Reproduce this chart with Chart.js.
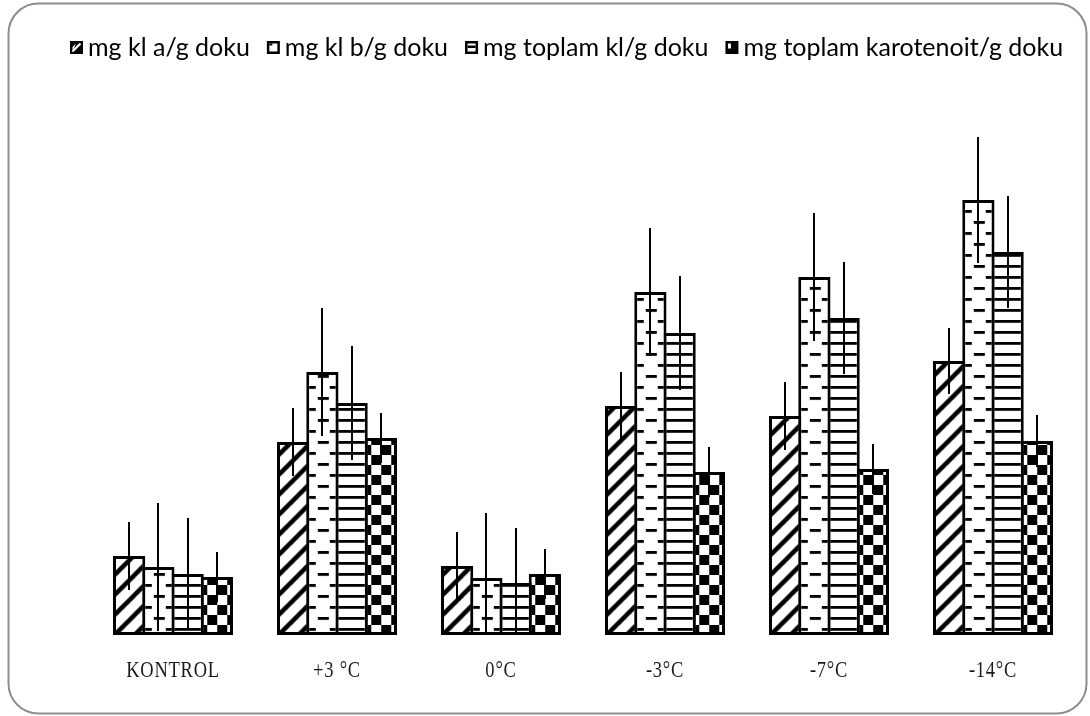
<!DOCTYPE html>
<html>
<head>
<meta charset="utf-8">
<script src="https://cdn.jsdelivr.net/npm/chart.js@4.4.1/dist/chart.umd.min.js"></script>
<style>
  html, body { margin: 0; padding: 0; background: #fff; }
  canvas { display: block; }
</style>
</head>
<body>
<canvas id="c" width="1090" height="716"></canvas>
<script>
// Pigment content per treatment (mg / g tissue) with error values
const categories = ['KONTROL', '+3 °C', '0°C', '-3°C', '-7°C', '-14°C'];
const seriesNames = ['mg kl a/g doku', 'mg kl b/g doku', 'mg toplam kl/g doku', 'mg toplam karotenoit/g doku'];

const klA        = [0.79, 1.93, 0.69, 2.29, 2.19, 2.74];
const klB        = [0.68, 2.63, 0.57, 3.43, 3.58, 4.35];
const toplamKl   = [0.61, 2.32, 0.52, 3.02, 3.17, 3.83];
const karotenoit = [0.58, 1.97, 0.61, 1.63, 1.66, 1.94];

const errKlA        = [0.34, 0.34, 0.34, 0.34, 0.34, 0.33];
const errKlB        = [0.64, 0.64, 0.65, 0.64, 0.64, 0.63];
const errToplamKl   = [0.56, 0.57, 0.55, 0.57, 0.56, 0.56];
const errKarotenoit = [0.25, 0.25, 0.25, 0.25, 0.25, 0.26];

const CAT_PCT = 0.7134;   // share of each category taken by the 4-bar group
const BAR_PCT = 1.1026;   // bars overlap so neighbouring outlines coincide
const BORDER = 3;

// ---- fill tiles -------------------------------------------------------
function tile(w, h, paint) {
  const c = document.createElement('canvas');
  c.width = w; c.height = h;
  const g = c.getContext('2d');
  g.fillStyle = '#fff';
  g.fillRect(0, 0, w, h);
  g.fillStyle = '#000';
  g.strokeStyle = '#000';
  paint(g, w, h);
  return c;
}

const tiles = {
  hatch: tile(20, 20, (g) => {
    g.lineWidth = 4.5;
    g.lineCap = 'butt';
    for (const o of [-20, 0, 20]) {
      g.beginPath();
      g.moveTo(o - 2, 22);
      g.lineTo(o + 22, -2);
      g.stroke();
    }
  }),
  dashes: tile(32, 22, (g) => {
    g.fillRect(10, 4, 11, 2.8);
    g.fillRect(0, 15, 8, 2.8);
    g.fillRect(22, 15, 10, 2.8);
  }),
  lines: tile(4, 11, (g) => {
    g.fillRect(0, 4, 4, 2.8);
  }),
  checker: tile(20, 20, (g) => {
    g.fillRect(0, 0, 10, 10);
    g.fillRect(10, 10, 10, 10);
  })
};

const tileShift = { hatch: 0, dashes: 0, lines: 0, checker: 5 };

function patternFill(kind) {
  return (ctx) => {
    const chart = ctx.chart;
    const pat = chart.ctx.createPattern(tiles[kind], 'repeat');
    const xs = chart.scales.x;
    if (xs && ctx.dataIndex !== undefined && chart.chartArea) {
      const slot = (xs.width / categories.length) * CAT_PCT / 4;
      const left = xs.getPixelForValue(ctx.dataIndex) + (ctx.datasetIndex - 2) * slot;
      pat.setTransform(new DOMMatrix([1, 0, 0, 1, left + tileShift[kind], chart.chartArea.bottom]));
    }
    return pat;
  };
}

const errors = [errKlA, errKlB, errToplamKl, errKarotenoit];
const fills = ['hatch', 'dashes', 'lines', 'checker'];

// ---- plugins ----------------------------------------------------------
const framePlugin = {
  id: 'frame',
  beforeDraw(chart) {
    const g = chart.ctx;
    g.save();
    g.fillStyle = '#fff';
    g.fillRect(0, 0, chart.width, chart.height);
    g.strokeStyle = '#8e8e8e';
    g.lineWidth = 2;
    g.beginPath();
    g.roundRect(8.5, 3.5, 1078, 710, 30);
    g.stroke();
    g.restore();
  }
};

const errorBarPlugin = {
  id: 'errorBars',
  afterDatasetsDraw(chart) {
    const g = chart.ctx;
    const ys = chart.scales.y;
    g.save();
    g.strokeStyle = '#000';
    g.lineWidth = 2;
    chart.data.datasets.forEach((ds, i) => {
      const meta = chart.getDatasetMeta(i);
      meta.data.forEach((bar, j) => {
        const v = ds.data[j];
        const e = errors[i][j];
        const x = Math.round(bar.x);
        g.beginPath();
        g.moveTo(x, ys.getPixelForValue(v + e));
        g.lineTo(x, ys.getPixelForValue(Math.max(v - e, 0.03)));
        g.stroke();
      });
    });
    g.restore();
  }
};

// category names under the groups, set in a narrow serif face
const categoryLabelPlugin = {
  id: 'categoryLabels',
  afterDraw(chart) {
    const xs = chart.scales.x;
    const g = chart.ctx;
    const squeeze = 0.77;
    g.save();
    g.font = '24px "Liberation Serif", "Times New Roman", serif';
    g.fillStyle = '#1a1a1a';
    g.textAlign = 'center';
    g.textBaseline = 'middle';
    g.letterSpacing = '1px';
    const y = chart.chartArea.bottom + 36;
    xs.ticks.forEach((t, i) => {
      const x = xs.getPixelForTick(i);
      g.save();
      g.translate(x, y);
      g.scale(squeeze, 1);
      g.fillText(xs.getLabelForValue(t.value), 0, 0);
      g.restore();
    });
    g.restore();
  }
};

function drawKey(g, kind, x, y) {
  const s = 13;
  g.save();
  g.fillStyle = '#000';
  if (kind === 'hatch') {
    g.fillRect(x, y, s, s);
    g.strokeStyle = '#fff';
    g.lineWidth = 2.2;
    g.beginPath();
    g.moveTo(x + 2.5, y + s - 2.5);
    g.lineTo(x + s - 2.5, y + 2.5);
    g.stroke();
    g.fillStyle = '#fff';
    g.beginPath();
    g.moveTo(x + 2.5, y + s - 2.5);
    g.lineTo(x + 2.5, y + 6);
    g.lineTo(x + 6, y + 2.5);
    g.closePath();
    g.fill();
  } else if (kind === 'dashes') {
    g.fillRect(x, y, s, s);
    g.fillStyle = '#fff';
    g.fillRect(x + 2.5, y + 2.5, s - 5, s - 5);
    g.fillStyle = '#000';
    g.fillRect(x + 2.5, y + 2.5, 3, 2);
  } else if (kind === 'lines') {
    g.fillRect(x, y, s, s);
    g.fillStyle = '#fff';
    g.fillRect(x + 2.5, y + 2.5, s - 5, s - 5);
    g.fillStyle = '#000';
    g.fillRect(x + 2.5, y + 4.5, s - 5, 2.5);
  } else {
    g.fillRect(x, y, s, s);
    g.fillStyle = '#fff';
    g.fillRect(x + 2.5, y + 2.5, 3, 5);
  }
  g.restore();
}

const keyPlugin = {
  id: 'key',
  afterDraw(chart) {
    const g = chart.ctx;
    g.save();
    g.font = '25px Lato, "Open Sans", sans-serif';
    g.textBaseline = 'middle';
    g.fillStyle = '#000';
    let x = 70;
    const y = 48;
    chart.data.datasets.forEach((ds, i) => {
      drawKey(g, fills[i], x, y - 7);
      x += 18;
      g.fillText(ds.label, x, y);
      x += g.measureText(ds.label).width + 17;
    });
    g.restore();
  }
};

// ---- chart ------------------------------------------------------------
const seriesValues = [klA, klB, toplamKl, karotenoit];

new Chart(document.getElementById('c'), {
  type: 'bar',
  data: {
    labels: categories,
    datasets: seriesValues.map((vals, i) => ({
      label: seriesNames[i],
      data: vals,
      backgroundColor: patternFill(fills[i]),
      borderColor: '#000',
      borderWidth: BORDER,
      borderSkipped: false,
      categoryPercentage: CAT_PCT,
      barPercentage: BAR_PCT
    }))
  },
  options: {
    responsive: false,
    animation: false,
    layout: { padding: { left: 91, right: 15, top: 135, bottom: 35 } },
    plugins: {
      legend: { display: false },
      tooltip: { enabled: false }
    },
    scales: {
      x: {
        grid: { display: false, drawTicks: false },
        border: { display: false },
        ticks: { display: false },
        afterFit(scale) { scale.height = 46; }
      },
      y: { display: false, min: 0, max: 5 }
    }
  },
  plugins: [framePlugin, errorBarPlugin, categoryLabelPlugin, keyPlugin]
});
</script>
</body>
</html>
